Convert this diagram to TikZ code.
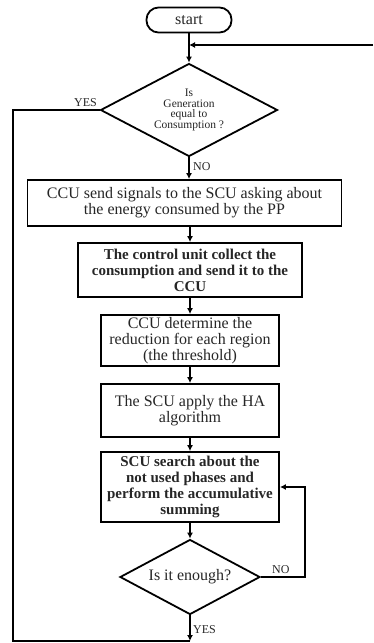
\documentclass[tikz,border=0pt]{standalone}
\usepackage{fontspec}
\setmainfont{Liberation Serif}
\usetikzlibrary{shapes.geometric,arrows.meta}
\begin{document}
\begin{tikzpicture}[x=1pt,y=-1pt,
  box/.style={draw,line width=1.8pt,align=center,inner sep=0pt,font=\fontsize{16}{16}\selectfont,text=black!85},
  boldbox/.style={box,font=\fontsize{15}{16}\selectfont\bfseries},
  decision/.style={draw,diamond,line width=1.8pt,align=center,inner sep=0pt,text=black!85},
  conn/.style={line width=1.2pt,-{Latex[length=6pt,width=6pt]}},
  plain/.style={line width=1.2pt},
  lbl/.style={font=\fontsize{12}{12}\selectfont,text=black!85,inner sep=0pt}]
\useasboundingbox (0,0) rectangle (373,643);

\node[box, rounded corners=12pt, minimum width=85pt, minimum height=25pt] (start) at (189,20) {start};
\node[decision, minimum width=177pt, minimum height=93pt, aspect=1.9,
      font=\fontsize{11.5}{10.5}\selectfont] (d1) at (189,110) {Is\\Generation\\equal to\\Consumption ?};
\node[box, minimum width=314pt, minimum height=46pt] (b1) at (184.5,203)
  {CCU send signals to the SCU asking about\\the energy consumed by the PP};
\node[boldbox, minimum width=224pt, minimum height=54pt] (b2) at (190,270)
  {The control unit collect the\\consumption and send it to the\\CCU};
\node[box, minimum width=178pt, minimum height=51pt] (b3) at (190,340.5)
  {CCU determine the\\reduction for each region\\(the threshold)};
\node[box, minimum width=178pt, minimum height=53pt] (b4) at (190,410.5)
  {The SCU apply the HA\\algorithm};
\node[boldbox, minimum width=178pt, minimum height=70pt] (b5) at (190,487)
  {SCU search about the\\not used phases and\\perform the accumulative\\summing};
\node[decision, minimum width=140pt, minimum height=75pt, aspect=1.87,
      font=\fontsize{16}{16}\selectfont] (d2) at (190,577) {Is it enough?};

\coordinate (rin) at (373,45);
\coordinate (lc) at (13,641);
\coordinate (rc) at (305,0);

\draw[conn] (start.south) -- (d1.north);
\draw[conn] (rin) -- (rin -| start.south);
\draw[conn] (d1.south) -- (d1.south |- b1.north);
\draw[conn] (b2.north |- b1.south) -- (b2.north);
\draw[conn] (b2.south) -- (b3.north);
\draw[conn] (b3.south) -- (b4.north);
\draw[conn] (b4.south) -- (b5.north);
\draw[conn] (b5.south) -- (d2.north);
\draw[conn] (d2.east) -- (d2.east -| rc) |- (b5.east);
\draw[plain] (d1.west) -| (lc) -- (lc -| d2.south);
\draw[conn] (d2.south) -- (d2.south |- lc);

\node[lbl, anchor=east] (yes1) at (97,103) {YES};
\node[lbl, anchor=west] (no1) at (193,167) {NO};
\node[lbl, anchor=west] (no2) at (272,570) {NO};
\node[lbl, anchor=west] (yes2) at (193,630) {YES};
\end{tikzpicture}
\end{document}
